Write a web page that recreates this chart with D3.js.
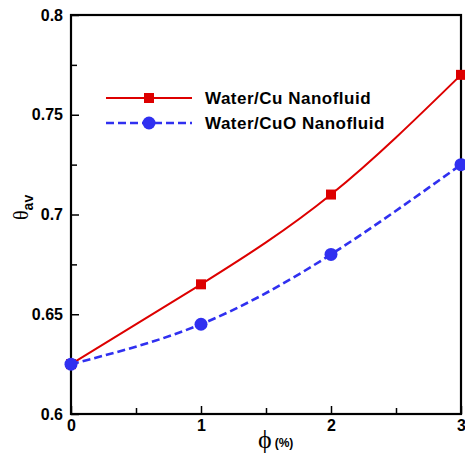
<!DOCTYPE html>
<html>
<head>
<meta charset="utf-8">
<script src="https://cdn.jsdelivr.net/npm/d3@7"></script>
<style>
  body { margin: 0; background: #fff; }
  .tick text { font-family: "Liberation Sans", Arial, sans-serif; font-weight: bold; font-size: 16px; fill: #000; }
</style>
</head>
<body>
<svg class="chart"></svg>
<script>
var phi = [0, 1, 2, 3];
var cuValues = [0.625, 0.665, 0.71, 0.77];
var cuoValues = [0.625, 0.645, 0.68, 0.725];
var seriesNames = ["Water/Cu Nanofluid", "Water/CuO Nanofluid"];
var xTicks = [0, 1, 2, 3];
var xMinorTicks = [0.5, 1.5, 2.5];
var yTicks = [0.6, 0.65, 0.7, 0.75, 0.8];
var yTickLabels = ["0.6", "0.65", "0.7", "0.75", "0.8"];
var yMinorTicks = [0.625, 0.675, 0.725, 0.775];

var width = 465, height = 455;
var plotLeft = 71, plotRight = 461, plotTop = 15, plotBottom = 414;

var chart = d3.select(".chart")
  .attr("width", width)
  .attr("height", height);

var x = d3.scaleLinear().domain([0, 3]).range([plotLeft, plotRight]);
var y = d3.scaleLinear().domain([0.6, 0.8]).range([plotBottom, plotTop]);

/* axes, ticks inside */
var xAxis = d3.axisBottom(x).tickValues(xTicks).tickFormat(d3.format("d"))
  .tickSizeInner(-8).tickSizeOuter(0).tickPadding(8);
var gx = chart.append("g").attr("transform", "translate(0," + plotBottom + ")").call(xAxis);
gx.selectAll("text").attr("y", 5).attr("dy", "0.75em");

chart.append("g").attr("transform", "translate(0," + plotBottom + ")")
  .call(d3.axisBottom(x).tickValues(xMinorTicks).tickFormat("").tickSizeInner(-6).tickSizeOuter(0));

var yAxis = d3.axisLeft(y).tickValues(yTicks)
  .tickFormat(function (d, i) { return yTickLabels[i]; })
  .tickSizeInner(-8).tickSizeOuter(0).tickPadding(8);
var gy = chart.append("g").attr("transform", "translate(" + plotLeft + ",0)").call(yAxis);
gy.selectAll("text").attr("x", -8);

chart.append("g").attr("transform", "translate(" + plotLeft + ",0)")
  .call(d3.axisLeft(y).tickValues(yMinorTicks).tickFormat("").tickSizeInner(-6).tickSizeOuter(0));

chart.selectAll(".domain").remove();
chart.selectAll(".tick line").attr("stroke", "#000").attr("stroke-width", 1.5);

/* frame */
chart.append("rect")
  .attr("x", plotLeft).attr("y", plotTop)
  .attr("width", plotRight - plotLeft).attr("height", plotBottom - plotTop)
  .attr("fill", "none").attr("stroke", "#000").attr("stroke-width", 2.2);

/* lines */
var line = d3.line()
  .x(function (d, i) { return x(phi[i]); })
  .y(function (d) { return y(d); })
  .curve(d3.curveNatural);

chart.append("path").datum(cuValues)
  .attr("d", line)
  .attr("fill", "none").attr("stroke", "#dd0000").attr("stroke-width", 2);

chart.append("path").datum(cuoValues)
  .attr("d", line)
  .attr("fill", "none").attr("stroke", "#3030f0").attr("stroke-width", 2.6)
  .attr("stroke-dasharray", "8,4");

chart.selectAll(".cu").data(cuValues).enter().append("rect")
  .attr("class", "cu")
  .attr("x", function (d, i) { return x(phi[i]) - 5; })
  .attr("y", function (d) { return y(d) - 5; })
  .attr("width", 10).attr("height", 10)
  .attr("fill", "#dd0000");

chart.selectAll(".cuo").data(cuoValues).enter().append("circle")
  .attr("class", "cuo")
  .attr("cx", function (d, i) { return x(phi[i]); })
  .attr("cy", function (d) { return y(d); })
  .attr("r", 6.5)
  .attr("fill", "#3030f0");

/* legend */
var legend = chart.append("g").attr("transform", "translate(106,98)");
legend.append("line").attr("x1", 0).attr("x2", 86).attr("y1", 0).attr("y2", 0)
  .attr("stroke", "#dd0000").attr("stroke-width", 2);
legend.append("rect").attr("x", 38).attr("y", -5).attr("width", 10).attr("height", 10)
  .attr("fill", "#dd0000");
legend.append("line").attr("x1", 0).attr("x2", 86).attr("y1", 25).attr("y2", 25)
  .attr("stroke", "#3030f0").attr("stroke-width", 2.6).attr("stroke-dasharray", "8,4");
legend.append("circle").attr("cx", 43).attr("cy", 25).attr("r", 6.5)
  .attr("fill", "#3030f0");
legend.selectAll("text").data(seriesNames).enter().append("text")
  .attr("x", 99)
  .attr("y", function (d, i) { return i * 25 + 6; })
  .attr("font-family", "Liberation Sans, Arial, sans-serif")
  .attr("font-weight", "bold").attr("font-size", 17)
  .attr("letter-spacing", 0.5)
  .text(function (d) { return d; });

/* axis titles */
var xt = chart.append("text")
  .attr("x", 258).attr("y", 448)
  .attr("font-family", "Liberation Serif, serif");
xt.append("tspan").attr("font-size", 26).text("\u03D5");
xt.append("tspan").attr("font-family", "Liberation Sans, Arial, sans-serif")
  .attr("font-weight", "bold").attr("font-size", 12).attr("dx", 3).attr("dy", -1).text("(%)");

var yt = chart.append("text")
  .attr("transform", "translate(28,220) rotate(-90)")
  .attr("font-family", "Liberation Serif, serif");
yt.append("tspan").attr("font-size", 20).text("\u03B8");
yt.append("tspan").attr("font-family", "Liberation Sans, Arial, sans-serif")
  .attr("font-weight", "bold").attr("font-size", 14).attr("dy", 5).text("av");
</script>
</body>
</html>
